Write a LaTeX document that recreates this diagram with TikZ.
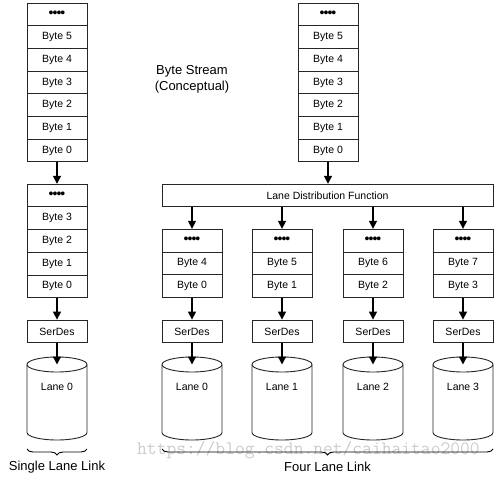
\documentclass[tikz,border=0pt]{standalone}
\usepackage{fontspec}
\setmainfont{Liberation Sans}
\usetikzlibrary{arrows.meta,decorations.pathreplacing}
\begin{document}
\begin{tikzpicture}[x=1pt,y=-1pt,
  cell/.style={draw=black!85,line width=0.9pt,minimum width=60pt,minimum height=22.7pt,inner sep=0pt,font=\fontsize{10.5}{12}\selectfont},
  flow/.style={line width=1.4pt,-{Triangle[length=8pt,width=8pt]}},
  lanebody/.style={draw=black!85,line width=0.9pt},
  bigtext/.style={font=\fontsize{13}{16}\selectfont,align=center},
  bracedeco/.style={decorate,decoration={brace,mirror,amplitude=6pt},line width=0.9pt}]
\useasboundingbox (0,0) rectangle (498,478);
\newcommand{\dotsym}{{\fontsize{14}{14}\selectfont\raisebox{0.5pt}{\textbullet\kern-1pt\textbullet\kern-1pt\textbullet\kern-1pt\textbullet}}}
% watermark
\node[anchor=west,inner sep=0pt,text=black!20,font=\ttfamily\fontsize{19}{20}\selectfont] (wm) at (137,450) {https://blog.csdn.net/caihaitao2000};
% top-left stack
\node[cell] (la) at (57,14.35) {\dotsym};
\node[cell] (l5) at (57,37.05) {Byte 5};
\node[cell] (l4) at (57,59.75) {Byte 4};
\node[cell] (l3) at (57,82.45) {Byte 3};
\node[cell] (l2) at (57,105.15) {Byte 2};
\node[cell] (l1) at (57,127.85) {Byte 1};
\node[cell] (l0) at (57,150.55) {Byte 0};
% top-right stack
\node[cell] (ra) at (328,14.35) {\dotsym};
\node[cell] (r5) at (328,37.05) {Byte 5};
\node[cell] (r4) at (328,59.75) {Byte 4};
\node[cell] (r3) at (328,82.45) {Byte 3};
\node[cell] (r2) at (328,105.15) {Byte 2};
\node[cell] (r1) at (328,127.85) {Byte 1};
\node[cell] (r0) at (328,150.55) {Byte 0};
% byte stream label
\node[bigtext] (bs) at (192,79) {Byte Stream\\(Conceptual)};
% second left stack
\node[cell] (sa) at (57,195.6) {\dotsym};
\node[cell] (s3) at (57,218.3) {Byte 3};
\node[cell] (s2) at (57,241) {Byte 2};
\node[cell] (s1) at (57,263.7) {Byte 1};
\node[cell] (s0) at (57,286.4) {Byte 0};
% lane distribution
\node[cell,minimum width=331pt] (ldf) at (327.5,195.6) {Lane Distribution Function};
% four lane stacks
\foreach \i/\x/\hi/\lo in {0/192/4/0,1/282/5/1,2/373/6/2,3/463/7/3}{
  \node[cell] (qa\i) at (\x,240.65) {\dotsym};
  \node[cell] (qh\i) at (\x,263.35) {Byte \hi};
  \node[cell] (ql\i) at (\x,286.05) {Byte \lo};
}
% serdes
\node[cell] (sd) at (57,331.4) {SerDes};
\foreach \i/\x in {0/192,1/282,2/373,3/463}{
  \node[cell] (sd\i) at (\x,331.4) {SerDes};
}
% cylinders
\foreach \n/\x in {c/57,c0/192,c1/282,c2/373,c3/463}{
  \draw[lanebody] (\x-30,364.5) -- (\x-30,432.5) arc[start angle=180,end angle=360,x radius=30,y radius=-7.5] -- (\x+30,364.5);
  \draw[lanebody] (\x,364.5) ellipse[x radius=30,y radius=7.5];
  \coordinate (\n) at (\x,364.5);
}
\node[font=\fontsize{10.5}{12}\selectfont] (lt) at (57,387) {Lane 0};
\node[font=\fontsize{10.5}{12}\selectfont] (lt0) at (192,387) {Lane 0};
\node[font=\fontsize{10.5}{12}\selectfont] (lt1) at (282,387) {Lane 1};
\node[font=\fontsize{10.5}{12}\selectfont] (lt2) at (373,387) {Lane 2};
\node[font=\fontsize{10.5}{12}\selectfont] (lt3) at (463,387) {Lane 3};
% arrows
\draw[flow] (l0.south) -- (sa.north);
\draw[flow] (r0.south) -- (ldf.north -| r0.south);
\draw[flow] (s0.south) -- (sd.north);
\draw[flow] (sd.south) -- (c);
\foreach \i in {0,1,2,3}{
  \draw[flow] (ldf.south -| qa\i.north) -- (qa\i.north);
  \draw[flow] (ql\i.south) -- (sd\i.north);
  \draw[flow] (sd\i.south) -- (c\i);
}
% braces
\coordinate (b1l) at (27,449);
\coordinate (b1r) at (87,449);
\coordinate (b2l) at (162,449);
\coordinate (b2r) at (493,449);
\draw[bracedeco] (b1l) -- (b1r);
\draw[bracedeco] (b2l) -- (b2r);
\node[bigtext] (sll) at (57,467) {Single Lane Link};
\node[bigtext] (fll) at (327.5,467) {Four Lane Link};
\end{tikzpicture}
\end{document}
